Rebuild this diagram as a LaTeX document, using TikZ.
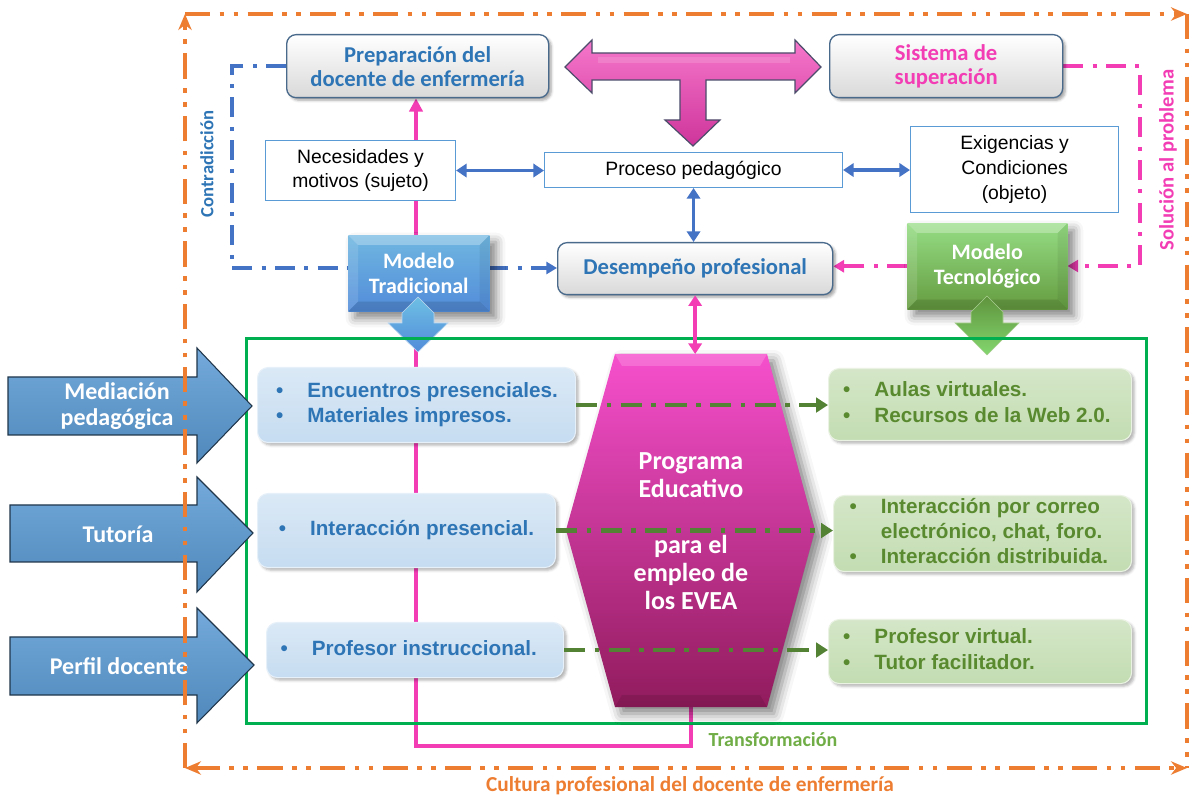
\documentclass[tikz,border=0pt]{standalone}
\usepackage{fontspec}
\setmainfont{Carlito}
\newfontfamily\arialf{Liberation Sans}
\usetikzlibrary{arrows.meta,shadows.blur,calc}
\definecolor{tblue}{HTML}{2E75B6}
\definecolor{cblue}{HTML}{4472C4}
\definecolor{bbord}{HTML}{5B9BD5}
\definecolor{pinkc}{HTML}{F23DB5}
\definecolor{orangec}{HTML}{ED7D31}
\definecolor{gframe}{HTML}{00B050}
\definecolor{gdark}{HTML}{548235}
\definecolor{gtext}{HTML}{5A8A30}
\definecolor{gtrans}{HTML}{70AD47}
\definecolor{boxedge}{HTML}{4A6A8C}
\pgfdeclarelayer{bg}
\pgfsetlayers{bg,main}
\newcommand\bullist[3]{\makebox[#1][l]{\hspace*{#2}\begin{tabular}{@{}l@{\hspace{18pt}}l@{}}#3\end{tabular}}}
\tikzset{
  roundbox/.style={rounded corners=7pt, draw=boxedge, line width=1pt, top color=white, bottom color=gray!30,
    blur shadow={shadow xshift=2pt, shadow yshift=-2pt, shadow blur steps=4, shadow opacity=35},
    font=\fontsize{17}{18}\selectfont\bfseries, align=center, inner sep=0pt, anchor=north west},
  plainbox/.style={draw=bbord, line width=0.8pt, fill=white, align=center, inner sep=0pt, anchor=north west,
    font=\arialf\fontsize{14.5}{18.5}\selectfont},
  modelbox/.style={inner sep=0pt, anchor=north west, align=center, text=white,
    font=\fontsize{16.5}{19}\selectfont\bfseries,
    blur shadow={shadow xshift=5pt, shadow yshift=-5pt, shadow blur radius=7pt, shadow opacity=50}},
  lbbox/.style={rounded corners=8pt, draw=white!85!bbord, line width=0.8pt, top color=white!78!bbord, bottom color=white!65!bbord,
    blur shadow={shadow xshift=2pt, shadow yshift=-2pt, shadow opacity=30}, inner sep=0pt, anchor=north west,
    font=\arialf\bfseries\fontsize{15.5}{19}\selectfont, text=tblue},
  lgbox/.style={rounded corners=8pt, draw=white!85!gtrans, line width=0.8pt, top color=white!70!gtrans, bottom color=white!58!gtrans,
    blur shadow={shadow xshift=2pt, shadow yshift=-2pt, shadow opacity=30}, inner sep=0pt, anchor=north west,
    font=\arialf\bfseries\fontsize{15.5}{19}\selectfont, text=gtext},
  bigarrow/.style={draw=black!65!bbord, line width=0.8pt, top color=white!15!bbord, bottom color=black!12!bbord},
  arrtext/.style={text=white, font=\fontsize{18}{19.5}\selectfont\bfseries, align=center},
  bconn/.style={draw=cblue, line width=2.8pt, {Triangle[length=8pt,width=10pt]}-{Triangle[length=8pt,width=10pt]}},
  pconn/.style={draw=pinkc, line width=2.8pt},
  bdash/.style={draw=cblue, line width=3pt, dash pattern=on 15pt off 7pt on 3pt off 7pt},
  pdash/.style={draw=pinkc, line width=3pt, dash pattern=on 15pt off 7pt on 3pt off 7pt},
  gdash/.style={draw=gdark, line width=3.5pt, dash pattern=on 16pt off 7pt on 3.5pt off 7pt, -{Triangle[length=9pt,width=11pt]}},
  oline/.style={draw=orangec, line width=3pt, dash pattern=on 19pt off 7pt on 3.5pt off 7pt on 3.5pt off 7pt},
  otip/.style={-{Stealth[length=12pt,width=10pt]}},
}
\begin{document}
\begin{tikzpicture}[x=0.75pt,y=-0.75pt]
\useasboundingbox (0,0) rectangle (1190,798);

% ---------- top nodes
\node[roundbox, text=tblue, minimum width={262*0.75pt}, minimum height={63*0.75pt}] (prep) at (286,34) {Preparación del\\docente de enfermería};
\node[roundbox, text=pinkc, minimum width={233*0.75pt}, minimum height={63*0.75pt}] (sis) at (829,34) {Sistema de\\superación};

% T arrow
\path[draw=black!70!blue!40!gray, line width=0.9pt, top color=pinkc!70!white, bottom color=pinkc!85!black]
 (565,67) -- (592,40) -- (592,53) -- (795,53) -- (795,40) -- (821,67) -- (795,93) -- (795,80) -- (706,80)
 -- (706,120) -- (720,120) -- (693,146) -- (665,120) -- (680,120) -- (680,80) -- (592,80) -- (592,93) -- cycle;
\fill[white,opacity=.14] (598,57) -- (790,57) -- (790,63) -- (598,63) -- cycle;

\node[plainbox, minimum width={190*0.75pt}, minimum height={60*0.75pt}] (nec) at (265,140) {Necesidades y\\motivos (sujeto)};
\node[plainbox, minimum width={298*0.75pt}, minimum height={35*0.75pt}] (proc) at (544,152) {Proceso pedagógico};
\node[plainbox, minimum width={208*0.75pt}, minimum height={86*0.75pt}] (exig) at (910,126) {Exigencias y\\Condiciones\\(objeto)};
\node[roundbox, text=tblue, minimum width={275*0.75pt}, minimum height={52*0.75pt}] (des) at (557,242) {Desempeño profesional};

% models
\node[modelbox, top color=white!20!bbord!90!cyan, bottom color=bbord!90!blue, minimum width={141*0.75pt}, minimum height={76*0.75pt}] (mtr) at (348,235) {Modelo\\Tradicional};
\node[modelbox, top color=gtrans!70!green!60!white, bottom color=gtrans!90!black, minimum width={160*0.75pt}, minimum height={86*0.75pt}] (mtc) at (907,223) {Modelo\\Tecnológico};
\foreach \m in {mtr,mtc}{
  \fill[white,opacity=.28] (\m.north west) -- (\m.north east) -- ($(\m.north east)+(-10,10)$) -- ($(\m.north west)+(10,10)$) -- cycle;
  \fill[white,opacity=.12] (\m.north west) -- (\m.south west) -- ($(\m.south west)+(10,-10)$) -- ($(\m.north west)+(10,10)$) -- cycle;
  \fill[black,opacity=.12] (\m.south west) -- (\m.south east) -- ($(\m.south east)+(-10,-10)$) -- ($(\m.south west)+(10,-10)$) -- cycle;
  \fill[black,opacity=.06] (\m.north east) -- (\m.south east) -- ($(\m.south east)+(-10,-10)$) -- ($(\m.north east)+(-10,10)$) -- cycle;
}
\path[top color=bbord!80!cyan!80!white, bottom color=bbord!90!blue, draw=white!60!bbord, line width=0.5pt]
 (418,297) -- (434,313) -- (434,323) -- (448,323) -- (418,352) -- (388,323) -- (402,323) -- (402,313) -- cycle;
\path[top color=gtrans!85!black, bottom color=gtrans!70!green!70!white, draw=gtrans!60!white, line width=0.5pt]
 (987,296) -- (1003,312) -- (1003,323) -- (1019,323) -- (987,355) -- (955,323) -- (971,323) -- (971,312) -- cycle;

% ---------- green frame
\node[draw=gframe, line width=2pt, minimum width={900*0.75pt}, minimum height={385*0.75pt}, anchor=north west, inner sep=0pt] (gfr) at (245,337) {};

% ---------- left / right boxes
\node[lbbox, minimum width={318*0.75pt}, minimum height={75*0.75pt}] (enc) at (257,367)
 {\bullist{238.5pt}{14pt}{\textbullet & Encuentros presenciales.\\ \textbullet & Materiales impresos.}};
\node[lbbox, minimum width={298*0.75pt}, minimum height={74*0.75pt}] (intp) at (257,493)
 {\bullist{223.5pt}{16pt}{\textbullet & Interacción presencial.}};
\node[lbbox, minimum width={297*0.75pt}, minimum height={55*0.75pt}] (profi) at (266,622)
 {\bullist{222.7pt}{10.5pt}{\textbullet & Profesor instruccional.}};

\node[lgbox, minimum width={303*0.75pt}, minimum height={72*0.75pt}] (aul) at (828,368)
 {\bullist{227.2pt}{11pt}{\textbullet & Aulas virtuales.\\ \textbullet & Recursos de la Web 2.0.}};
\node[lgbox, minimum width={298*0.75pt}, minimum height={72*0.75pt}] (cor) at (833,495)
 {\bullist{223.5pt}{12pt}{\textbullet & Interacción por correo\\ & electrónico, chat, foro.\\ \textbullet & Interacción distribuida.}};
\node[lgbox, minimum width={303*0.75pt}, minimum height={64*0.75pt}] (virt) at (828,619)
 {\bullist{227.2pt}{11pt}{\textbullet & Profesor virtual.\\ \textbullet & Tutor facilitador.}};

% ---------- hexagon
\path[top color=pinkc!80!magenta!85!white, bottom color=pinkc!55!black!80!purple,
  blur shadow={shadow xshift=5pt, shadow yshift=-5pt, shadow blur radius=8pt, shadow opacity=50}]
 (615,354) -- (767,354) -- (815,530) -- (767,707) -- (615,707) -- (566,530) -- cycle;
\fill[white,opacity=.18] (615,354) -- (767,354) -- (760,366) -- (622,366) -- cycle;
\fill[black,opacity=.10] (615,707) -- (767,707) -- (760,695) -- (622,695) -- cycle;
\coordinate (progN) at (691,354);
\coordinate (progS) at (691,707);
\node[text=white, font=\fontsize{19.5}{21}\selectfont\bfseries, align=center] (prog) at (691,531)
 {Programa\\Educativo\\[21pt]para el\\empleo de\\los EVEA};

% ---------- background connectors
\coordinate (pbl) at (416,746);
\coordinate (pbr) at (691,746);
\coordinate (bl1) at (232,66);
\coordinate (bl2) at (232,268);
\coordinate (pr1) at (1140,66);
\coordinate (pr2) at (1140,266);
\begin{pgfonlayer}{bg}
\draw[pconn, -{Triangle[length=10pt,width=10pt]}] (progS) -- (pbr) -- (pbl) -- (pbl |- prep.south);
\draw[bdash, -{Triangle[length=8pt,width=9pt]}] (prep.west) -- (prep.west -| bl1) -- (bl2) -- (bl2 -| des.west);
\draw[pdash, -{Triangle[length=8pt,width=9pt]}] (sis.east) -- (sis.east -| pr1) -- (pr2) -- (pr2 -| mtc.east);
\draw[pdash, -{Triangle[length=8pt,width=9pt]}] (mtc.west) -- (mtc.west -| des.east);
\end{pgfonlayer}

% ---------- foreground connectors
\draw[bconn] (nec.east) -- (nec.east -| proc.west);
\draw[bconn] (proc.east) -- (proc.east -| exig.west);
\draw[bconn] (proc.south) -- (proc.south |- des.north);
\draw[pconn, {Triangle[length=8pt,width=10pt]}-{Triangle[length=8pt,width=10pt]}] (des.south) -- (des.south |- progN);
\draw[gdash] (enc.east) -- (enc.east -| aul.west);
\draw[gdash] (intp.east) -- (intp.east -| cor.west);
\draw[gdash] (profi.east) -- (profi.east -| virt.west);

% ---------- left arrows
\path[bigarrow] (8,377) -- (197,377) -- (197,348) -- (252,406) -- (197,463) -- (197,435) -- (8,435) -- cycle;
\path[bigarrow] (10,505) -- (197,505) -- (197,477) -- (253,533) -- (197,592) -- (197,562) -- (10,562) -- cycle;
\path[bigarrow] (10,637) -- (197,637) -- (197,608) -- (254,665) -- (197,723) -- (197,695) -- (10,695) -- cycle;
\node[arrtext] (tmed) at (117,406) {Mediación\\pedagógica};
\node[arrtext] (ttut) at (118,534) {Tutoría};
\node[arrtext] (tperf) at (119,666) {Perfil docente};

% ---------- orange frame
\coordinate (oTL) at (185,14);
\coordinate (oTR) at (1187,14);
\coordinate (oBR) at (1187,768);
\coordinate (oBL) at (185,768);
\draw[oline, otip] (oBL) -- (oTL);
\draw[oline, otip] (oTL) -- (oTR);
\draw[oline] (oTR) -- (oBR);
\draw[oline, {Stealth[length=12pt,width=10pt]}-{Stealth[length=12pt,width=10pt]}] (oBL) -- (oBR);

% ---------- labels
\node[rotate=90, text=tblue, font=\fontsize{14}{16}\selectfont\bfseries] (lcon) at (207,164) {Contradicción};
\node[rotate=90, text=pinkc, font=\fontsize{15.5}{17}\selectfont\bfseries] (lsol) at (1168,160) {Solución al problema};
\node[text=gtrans, font=\fontsize{15}{16}\selectfont\bfseries] (ltra) at (773,740) {Transformación};
\node[text=orangec, font=\fontsize{16}{18}\selectfont\bfseries] (lcul) at (690,786) {Cultura profesional del docente de enfermería};
\end{tikzpicture}
\end{document}
